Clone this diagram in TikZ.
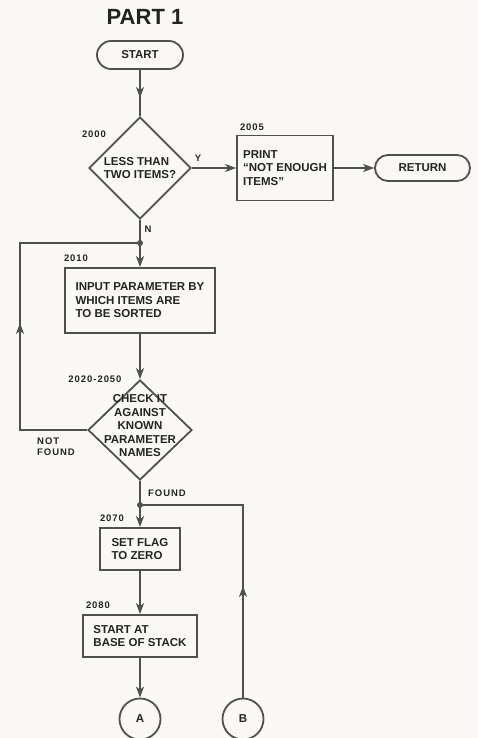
\documentclass[tikz,border=0pt]{standalone}
\usepackage{fontspec}
\setmainfont{Liberation Sans}
\usetikzlibrary{shapes.geometric,shapes.misc,arrows.meta}
\definecolor{ink}{RGB}{80,80,80}
\definecolor{txt}{RGB}{35,35,35}
\definecolor{paper}{RGB}{250,249,245}
\begin{document}
\begin{tikzpicture}[x=1pt,y=-1pt,
 wire/.style={draw=ink,line width=1.5pt},
 arr/.style={wire, -{Stealth[length=11pt,width=8pt,inset=3pt]}},
 boxtxt/.style={font=\bfseries\fontsize{11.5}{13.5}\selectfont, text=txt},
 proc/.style={boxtxt, rectangle, wire, line width=1.8pt, align=left, inner sep=0pt},
 term/.style={boxtxt, rounded rectangle, wire, line width=1.8pt, inner sep=0pt},
 dec/.style={diamond, wire, line width=1.8pt, inner sep=0pt},
 conn/.style={circle, wire, line width=1.8pt, minimum size=41pt, inner sep=0pt, boxtxt},
 lbl/.style={font=\bfseries\fontsize{9.5}{10}\selectfont\addfontfeature{LetterSpace=10}, text=txt, inner sep=0pt},
 jdot/.style={circle, fill=ink, minimum size=6pt, inner sep=0pt}
]
\fill[paper] (0,0) rectangle (478,738);
\useasboundingbox (0,0) rectangle (478,738);

% title
\node[font=\bfseries\fontsize{22}{24}\selectfont, text=txt, inner sep=0pt] (title) at (145,17) {PART 1};

% nodes
\node[term, minimum width=86pt, minimum height=28pt] (start) at (140,55) {START};
\node[dec, minimum width=102pt, minimum height=102pt,
      label={[boxtxt, align=left, inner sep=0pt]center:{LESS THAN\\TWO ITEMS?}}] (d1) at (140,168) {};
\node[proc, minimum width=96pt, minimum height=65pt] (print) at (285,168) {PRINT\\``NOT ENOUGH\\ITEMS''};
\node[term, minimum width=95pt, minimum height=26pt] (ret) at (422.5,168) {RETURN};
\node[jdot] (j1) at (140,243) {};
\node[proc, minimum width=150pt, minimum height=65pt] (input) at (140,300.5) {INPUT PARAMETER BY\\WHICH ITEMS ARE\\TO BE SORTED};
\node[dec, minimum width=104pt, minimum height=100pt,
      label={[boxtxt, align=center, inner sep=0pt, yshift=4pt]center:{CHECK IT\\AGAINST\\KNOWN\\PARAMETER\\NAMES}}] (d2) at (140,430) {};
\node[jdot] (j2) at (140,505) {};
\node[proc, minimum width=80pt, minimum height=42pt] (setflag) at (140,549) {SET FLAG\\TO ZERO};
\node[proc, minimum width=114pt, minimum height=42pt] (startat) at (140,636) {START AT\\BASE OF STACK};
\node[conn] (ca) at (140,719) {A};
\node[conn] (cb) at (243,719) {B};

% labels
\node[lbl] (l2000) at (94,134) {2000};
\node[lbl] (l2005) at (252,127) {2005};
\node[lbl] (ly) at (198,158) {Y};
\node[lbl] (ln) at (148,229) {N};
\node[lbl] (l2010) at (76,258) {2010};
\node[lbl] (l2020) at (95,379) {2020-2050};
\node[lbl, anchor=west, align=left] (lnf) at (37,446.5) {NOT\\[1pt]FOUND};
\node[lbl, anchor=west] (lfound) at (148,493) {FOUND};
\node[lbl] (l2070) at (112,518) {2070};
\node[lbl] (l2080) at (98,605) {2080};

% helper coordinates
\coordinate (a1) at (140,98);
\coordinate (lp1) at (20,430);
\coordinate (lp2) at (20,243);
\coordinate (lpa) at (20,323);
\coordinate (bp) at (243,505);
\coordinate (ba) at (243,586);

% connectors
\draw[wire] (start.south) -- (d1.north);
\draw[arr] (start.south) -- (a1);
\draw[arr] (d1.east) -- (print.west);
\draw[arr] (print.east) -- (ret.west);
\draw[wire] (d1.south) -- (j1.center);
\draw[arr] (j1.center) -- (input.north);
\draw[arr] (input.south) -- (d2.north);
\draw[wire] (d2.west) -- (lp1) -- (lp2) -- (j1.center);
\draw[arr] (lp1) -- (lpa);
\draw[wire] (d2.south) -- (j2.center);
\draw[arr] (j2.center) -- (setflag.north);
\draw[arr] (setflag.south) -- (startat.north);
\draw[arr] (startat.south) -- (ca.north);
\draw[wire] (j2.center) -- (bp) -- (cb.north);
\draw[arr] (cb.north) -- (ba);
\end{tikzpicture}
\end{document}
